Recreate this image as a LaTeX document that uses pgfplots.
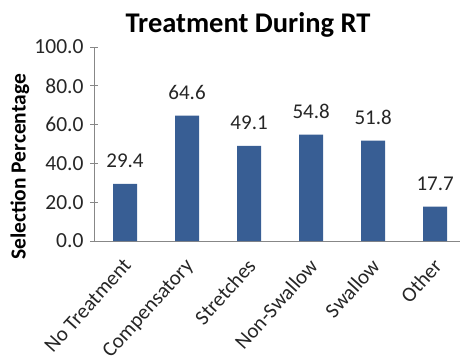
\documentclass[border=0pt]{standalone}
\usepackage{pgfplots}
\pgfplotsset{compat=1.18}
\usepackage{fontspec}
\setmainfont{Carlito}

\definecolor{barblue}{RGB}{56,94,148}
\definecolor{axisgray}{RGB}{135,135,135}

\begin{document}
\begin{tikzpicture}[x=1pt,y=1pt]
  \useasboundingbox (0,0) rectangle (460,357);
  \begin{axis}[
    at={(94pt,116pt)}, anchor=south west,
    scale only axis,
    width=366pt, height=194pt,
    ymin=0, ymax=100,
    xmin=-0.5, xmax=5.4,
    ytick={0,20,40,60,80,100},
    yticklabel style={font=\fontsize{21.5}{24}\selectfont, text=black!85, xshift=-3pt,
      /pgf/number format/fixed, /pgf/number format/fixed zerofill,
      /pgf/number format/precision=1, /pgf/number format/assume math mode=true},
    xtick=data,
    xticklabels={No Treatment, Compensatory, Stretches, Non-Swallow, Swallow, Other},
    xticklabel style={font=\fontsize{21}{24}\selectfont, text=black!85, anchor=north east,
      inner sep=0pt, yshift=-8pt, xshift=-3pt, rotate=48},
    x tick style={draw=none},
    y tick style={draw=axisgray, line width=0.9pt},
    major tick length=8pt,
    tick align=outside,
    axis x line=bottom, axis y line=left,
    axis line style={draw=axisgray, line width=0.9pt, -},
    ybar, bar width=24pt,
    nodes near coords,
    nodes near coords style={font=\fontsize{21}{24}\selectfont, text=black!85, anchor=base, yshift=16.5pt,
      /pgf/number format/fixed, /pgf/number format/fixed zerofill,
      /pgf/number format/precision=1, /pgf/number format/assume math mode=true},
  ]
    \addplot[fill=barblue, draw=none] coordinates {
      (0,29.4) (1,64.6) (2,49.1) (3,54.8) (4,51.8) (5,17.7)
    };
  \end{axis}
  \node[anchor=base, font=\fontsize{28.5}{30}\selectfont\bfseries] at (248,324) {Treatment During RT};
  \node[rotate=90, font=\fontsize{21.5}{24}\selectfont\bfseries] at (20,190) {Selection Percentage};
\end{tikzpicture}
\end{document}
